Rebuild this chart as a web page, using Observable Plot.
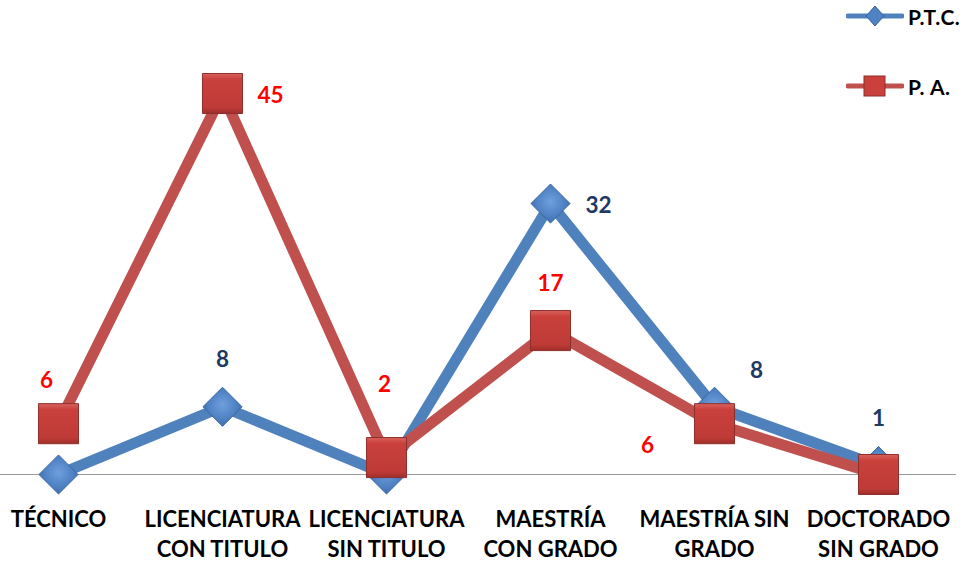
<!DOCTYPE html>
<html>
<head>
<meta charset="utf-8">
<script src="https://cdn.jsdelivr.net/npm/d3@7"></script>
<script src="https://cdn.jsdelivr.net/npm/@observablehq/plot@0.6"></script>
<style>
  html, body { margin: 0; padding: 0; background: #fff; }
  #wrap { position: relative; width: 974px; height: 562px; font-family: Lato, "Open Sans", sans-serif; }
  #legend { position: absolute; left: 846px; top: 0; }
  .lg-row { position: absolute; left: 0; display: flex; align-items: center; white-space: nowrap; }
  .lg-row span { font-weight: bold; font-size: 21px; color: #000; margin-left: 4px; letter-spacing: 0.5px; }
</style>
</head>
<body>
<div id="wrap"><div id="legend"></div></div>
<script>
// ---- data ----
const categories = ["TÉCNICO", "LICENCIATURA CON TITULO", "LICENCIATURA SIN TITULO", "MAESTRÍA CON GRADO", "MAESTRÍA SIN GRADO", "DOCTORADO SIN GRADO"];
const tickLabels = ["TÉCNICO", "LICENCIATURA\nCON TITULO", "LICENCIATURA\nSIN TITULO", "MAESTRÍA\nCON GRADO", "MAESTRÍA SIN\nGRADO", "DOCTORADO\nSIN GRADO"];
const seriesNames = ["P.T.C.", "P. A."];
const ptcValues = [0, 8, 0, 32, 8, 1];
const paValues = [6, 45, 2, 17, 6, 0];
// data-label placement keywords (null = no label)
const ptcLabelPlace = [null, "above", null, "right", "aboveRight", "above"];
const paLabelPlace = ["aboveLeft", "right", "aboveFar", "above", "belowLeft", null];

// ---- build table ----
const ptc = categories.map((c, i) => ({cat: c, v: ptcValues[i], place: ptcLabelPlace[i]}));
const pa = categories.map((c, i) => ({cat: c, v: paValues[i], place: paLabelPlace[i]}));

const placeOffsets = {
  above: [0, -47],
  aboveLeft: [-12, -43],
  aboveFar: [-2, -73],
  right: [48, 2],
  aboveRight: [42, -36],
  belowLeft: [-67, 22]
};

const BLUE = "#4f81bd", RED = "#c0504d";
const NAVY = "#1f3864", LRED = "#ff0000";

function labelMarks(data, color) {
  return Object.entries(placeOffsets).map(([k, [dx, dy]]) =>
    Plot.text(data.filter(d => d.place === k), {
      x: "cat", y: "v", text: d => String(d.v), dx, dy,
      fill: color, fontSize: 22.5, fontWeight: "bold", textAnchor: "middle"
    })
  );
}

const chart = Plot.plot({
  width: 974,
  height: 562,
  marginLeft: 58,
  marginRight: 96,
  marginTop: 93,
  marginBottom: 88,
  style: {fontFamily: "Lato, 'Open Sans', sans-serif", background: "#fff", overflow: "visible"},
  x: {type: "point", domain: categories, padding: 0, axis: null},
  y: {domain: [0, 45], axis: null},
  marks: [
    Plot.ruleY([0], {stroke: "#9a9a9a", strokeWidth: 1.2, insetLeft: -58, insetRight: -78}),
    Plot.line(ptc, {x: "cat", y: "v", stroke: BLUE, strokeWidth: 11, strokeLinejoin: "round"}),
    Plot.line(pa, {x: "cat", y: "v", stroke: RED, strokeWidth: 11, strokeLinejoin: "round"}),
    Plot.dot(ptc, {x: "cat", y: "v", symbol: "diamond2", r: 17.6, fill: "url(#gBlue)", stroke: "#3b679e", strokeWidth: 1}),
    Plot.dot(pa, {x: "cat", y: "v", symbol: "square", r: 22.6, fill: "url(#gRed)", stroke: "#8c2f2c", strokeWidth: 1}),
    ...labelMarks(ptc, NAVY),
    ...labelMarks(pa, LRED),
    Plot.text(categories, {
      x: d => d, y: () => 0,
      text: d => tickLabels[categories.indexOf(d)],
      dy: 31, lineAnchor: "top", lineHeight: 1.36,
      fontSize: 22, fontWeight: "bold", fill: "#000", textAnchor: "middle"
    })
  ]
});

// gradients
const defs = d3.select(chart).insert("defs", ":first-child");
const gb = defs.append("radialGradient").attr("id", "gBlue").attr("cx", "50%").attr("cy", "45%").attr("r", "60%");
gb.append("stop").attr("offset", "0%").attr("stop-color", "#6f9fdc");
gb.append("stop").attr("offset", "60%").attr("stop-color", "#4f81c4");
gb.append("stop").attr("offset", "100%").attr("stop-color", "#3a6aa6");
const gr = defs.append("linearGradient").attr("id", "gRed").attr("x1", "0").attr("y1", "0").attr("x2", "0").attr("y2", "1");
gr.append("stop").attr("offset", "0%").attr("stop-color", "#d9625e");
gr.append("stop").attr("offset", "15%").attr("stop-color", "#c9403c");
gr.append("stop").attr("offset", "85%").attr("stop-color", "#bf3b37");
gr.append("stop").attr("offset", "100%").attr("stop-color", "#9e2e2b");

document.getElementById("wrap").prepend(chart);

// legend
const legend = document.getElementById("legend");
const legendItems = [
  {name: seriesNames[0], color: BLUE, top: 3, marker: '<path d="M29,-10 L38,0 L29,10 L20,0 Z" fill="#4f81c4" stroke="#3b679e"/>'},
  {name: seriesNames[1], color: RED, top: 73, marker: '<rect x="18" y="-10" width="21" height="20" fill="#c9403c" stroke="#8c2f2c"/>'}
];
legendItems.forEach(it => {
  const row = document.createElement("div");
  row.className = "lg-row";
  row.style.top = it.top + "px";
  row.innerHTML = `<svg width="58" height="26" viewBox="0 -13 58 26"><line x1="2" x2="56" y1="0" y2="0" stroke="${it.color}" stroke-width="5" stroke-linecap="round"/>${it.marker}</svg><span>${it.name}</span>`;
  legend.appendChild(row);
});
</script>
</body>
</html>
